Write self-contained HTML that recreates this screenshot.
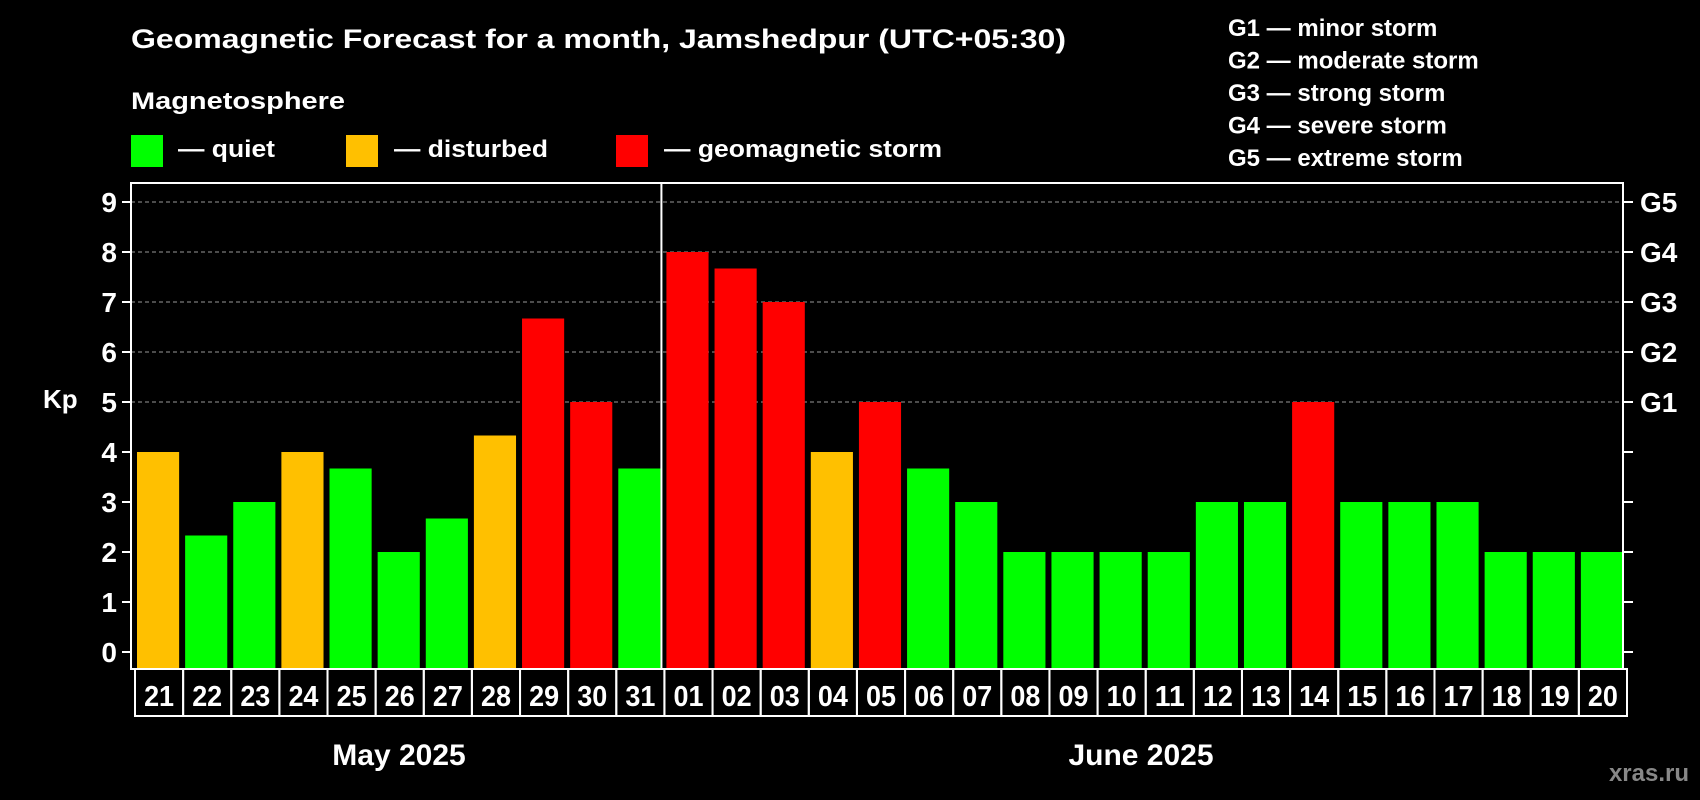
<!DOCTYPE html>
<html><head><meta charset="utf-8"><style>
html,body{margin:0;padding:0;background:#000;}
svg{display:block;font-family:"Liberation Sans",Arial,sans-serif;font-weight:bold;}
</style></head><body>
<svg id="chart" width="1700" height="800" viewBox="0 0 1700 800">
<rect x="0" y="0" width="1700" height="800" fill="#000"/>
<text x="131" y="48" fill="#fff" font-size="27" textLength="935" lengthAdjust="spacingAndGlyphs">Geomagnetic Forecast for a month, Jamshedpur (UTC+05:30)</text>
<text x="131" y="109" fill="#fff" font-size="24" textLength="214" lengthAdjust="spacingAndGlyphs">Magnetosphere</text>
<g><rect x="131" y="135" width="32" height="32" fill="#00ff00"/><text x="178" y="157" fill="#fff" font-size="24" textLength="97" lengthAdjust="spacingAndGlyphs">— quiet</text></g>
<g><rect x="346" y="135" width="32" height="32" fill="#ffc000"/><text x="394" y="157" fill="#fff" font-size="24" textLength="154" lengthAdjust="spacingAndGlyphs">— disturbed</text></g>
<g><rect x="616" y="135" width="32" height="32" fill="#ff0000"/><text x="664" y="157" fill="#fff" font-size="24" textLength="278" lengthAdjust="spacingAndGlyphs">— geomagnetic storm</text></g>
<g id="glegend" fill="#fff" font-size="24"></g>
<g id="grid"></g>
<g id="bars"></g>
<g id="axes"></g>
<text x="43" y="408" fill="#fff" font-size="26">Kp</text>
<text x="399" y="765" fill="#fff" font-size="30" text-anchor="middle">May 2025</text>
<text x="1141" y="765" fill="#fff" font-size="30" text-anchor="middle">June 2025</text>
<text x="1689" y="781" fill="#888" font-size="24" text-anchor="end">xras.ru</text>
</svg>
<script>
const days = ["21","22","23","24","25","26","27","28","29","30","31","01","02","03","04","05","06","07","08","09","10","11","12","13","14","15","16","17","18","19","20"];
const kpValues = [4,2.33,3,4,3.67,2,2.67,4.33,6.67,5,3.67,8,7.67,7,4,5,3.67,3,2,2,2,2,3,3,5,3,3,3,2,2,2];
const levels = ["quiet","quiet","quiet","disturbed","quiet","quiet","quiet","disturbed","storm","storm","quiet","storm","storm","storm","disturbed","storm","quiet","quiet","quiet","quiet","quiet","quiet","quiet","quiet","storm","quiet","quiet","quiet","quiet","quiet","quiet"];
levels[0]="disturbed";
const yTicks = [0,1,2,3,4,5,6,7,8,9];
const gLabels = ["G1","G2","G3","G4","G5"];
const gLevels = [5,6,7,8,9];
const gLegend = ["G1 — minor storm","G2 — moderate storm","G3 — strong storm","G4 — severe storm","G5 — extreme storm"];
const monthSplit = 11;

const NS="http://www.w3.org/2000/svg";
const X0=131,X1=1623,TOP=183,BOT=669;
const step=(X1-X0)/days.length;
const y=v=>652-50*v;
const colors={quiet:"#00ff00",disturbed:"#ffc000",storm:"#ff0000"};
function mk(tag,attrs,parent){const e=document.createElementNS(NS,tag);for(const k in attrs)e.setAttribute(k,attrs[k]);parent.appendChild(e);return e;}
const grid=document.getElementById('grid'),bars=document.getElementById('bars'),axes=document.getElementById('axes'),gl=document.getElementById('glegend');

gLegend.forEach((t,i)=>{const e=mk('text',{x:1228,y:36+i*32.5},gl);e.textContent=t;

});

yTicks.forEach(v=>{
  if(v>=5){const l=mk('line',{x1:X0,x2:X1,y1:y(v),y2:y(v),stroke:"#999","stroke-width":1,"stroke-dasharray":"4,3"},grid);
  
  }
  const tl=mk('line',{x1:X0-9,x2:X0,y1:y(v),y2:y(v),stroke:"#fff","stroke-width":2},axes);
  
  
  const tr=mk('line',{x1:X1,x2:X1+10,y1:y(v),y2:y(v),stroke:"#fff","stroke-width":2},axes);
  
  
  const t=mk('text',{x:117,y:y(v)+10,fill:"#fff","font-size":28,"text-anchor":"end"},axes);t.textContent=v;
  
  
});
gLabels.forEach((g,i)=>{const t=mk('text',{x:1640,y:y(gLevels[i])+10,fill:"#fff","font-size":28},axes);t.textContent=g;

});

kpValues.forEach((v,i)=>{
  const r=mk('rect',{x:X0+6+i*step,y:y(v),width:step-6,height:BOT-1-y(v),fill:colors[levels[i]]},bars);
  
  
});
// frame
const fr=mk('rect',{x:X0,y:TOP,width:X1-X0,height:BOT-TOP,fill:"none",stroke:"#fff","stroke-width":2},axes);


const sp=mk('line',{x1:X0+monthSplit*step+1,x2:X0+monthSplit*step+1,y1:TOP,y2:BOT,stroke:"#fff","stroke-width":2},axes);


// day boxes
days.forEach((d,i)=>{
  const bx=135+i*step;
  const b=mk('rect',{x:bx,y:BOT,width:step,height:47,fill:"none",stroke:"#fff","stroke-width":2},axes);
  
  
  const t=mk('text',{x:bx+step/2,y:BOT+37,fill:"#fff","font-size":29,"text-anchor":"middle",textLength:30,lengthAdjust:"spacingAndGlyphs"},axes);t.textContent=d;
  
  
});
</script>
</body></html>
